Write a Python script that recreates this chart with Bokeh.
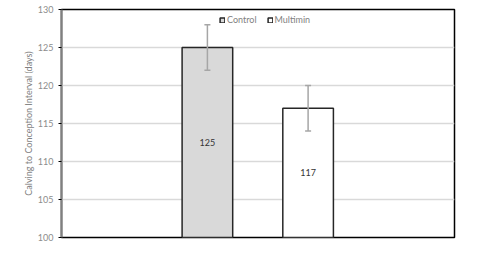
from bokeh.plotting import figure
from bokeh.models import ColumnDataSource, Whisker, TeeHead, Legend, LegendItem, FixedTicker, Range1d
from bokeh.embed import file_html
from bokeh.resources import INLINE
from bokeh.core.properties import value

groups = ["Control", "Multimin"]
means = [125, 117]
errors = [3, 3]
colors = ["#d9d9d9", "#ffffff"]
xpos = [2.97, 5.02]
yticks = [100, 105, 110, 115, 120, 125, 130]

p = figure(width=492, height=256, output_backend="svg", toolbar_location=None,
           x_range=Range1d(0, 8), y_range=Range1d(100, 130),
           x_axis_location=None, min_border_left=61, min_border_right=38,
           min_border_top=9, min_border_bottom=19)
p.background_fill_color = "white"
p.border_fill_color = "white"
p.outline_line_color = "black"
p.outline_line_width = 1.5

p.xgrid.visible = False
p.ygrid.grid_line_color = "#d9d9d9"
p.ygrid.grid_line_width = 1.5

yax = p.yaxis[0]
yax.ticker = FixedTicker(ticks=yticks)
yax.axis_line_color = "#808080"
yax.axis_line_width = 2
yax.major_tick_out = 3
yax.major_tick_in = 0
yax.major_tick_line_color = "black"
yax.minor_tick_line_color = None
yax.major_label_text_font = "Lato"
yax.major_label_text_font_size = "9px"
yax.major_label_text_color = "#8c8c8c"
yax.major_label_standoff = 5
yax.axis_label = "Calving to Conception Interval (days)"
yax.axis_label_text_font = "Lato"
yax.axis_label_text_font_size = "9px"
yax.axis_label_text_font_style = "normal"
yax.axis_label_text_color = "#7f7f7f"
yax.axis_label_standoff = 1

renderers = []
for i in range(len(groups)):
    src = ColumnDataSource(dict(x=[xpos[i]], top=[means[i]], lo=[means[i] - errors[i]],
                                hi=[means[i] + errors[i]], mid=[(100 + means[i]) / 2],
                                lab=[str(means[i])]))
    r = p.vbar(x="x", top="top", bottom=100, width=1.03, source=src,
               fill_color=colors[i], line_color="#262626", line_width=1.5)
    renderers.append(r)
    w = Whisker(base="x", upper="hi", lower="lo", source=src,
                line_color="#a6a6a6", line_width=1.5, level="overlay",
                upper_head=TeeHead(size=6, line_color="#a6a6a6", line_width=1.5),
                lower_head=TeeHead(size=6, line_color="#a6a6a6", line_width=1.5))
    p.add_layout(w)
    p.text(x="x", y="mid", text="lab", source=src, text_align="center",
           text_baseline="middle", text_font=value("Lato"), text_font_size="9px",
           text_color="#333333")

legend = Legend(items=[LegendItem(label=groups[i], renderers=[renderers[i]]) for i in range(2)],
                orientation="horizontal", location=(158, 212),
                background_fill_alpha=0, border_line_color=None,
                glyph_width=6, glyph_height=6, label_text_font="Lato",
                label_text_font_size="9px", label_text_color="#7f7f7f",
                spacing=10, padding=0, margin=0, label_standoff=2, label_height=8)
p.add_layout(legend)

open("out.html", "w").write(file_html(p, INLINE))
